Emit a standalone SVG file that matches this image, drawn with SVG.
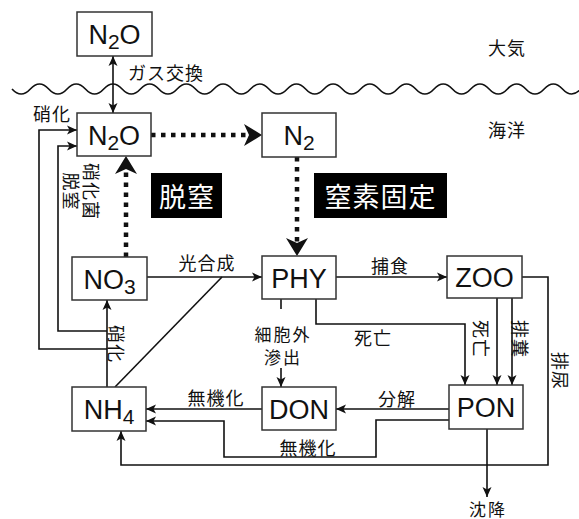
<svg xmlns="http://www.w3.org/2000/svg" width="579" height="519" viewBox="0 0 579 519">
<defs>
<style>
.box{fill:#fff;stroke:#333;stroke-width:1.5}
.nt{font-family:"Liberation Sans",Arial,sans-serif;font-size:27px;fill:#111;text-anchor:middle}
.sub{font-size:21px}
.lb{font-family:"Noto Sans CJK JP",sans-serif;font-size:18px;fill:#111;letter-spacing:1px;dominant-baseline:central}
.sm{font-size:17px;letter-spacing:2px}
.c{text-anchor:middle}
.big{font-family:"Noto Sans CJK JP",sans-serif;font-size:27px;fill:#fff;letter-spacing:1px;text-anchor:middle;dominant-baseline:central}
.ln{fill:none;stroke:#111;stroke-width:1.6}
.dot{fill:none;stroke:#111;stroke-width:4.5;stroke-dasharray:4.5 5.5}
</style>
<marker id="ar" markerUnits="userSpaceOnUse" markerWidth="10" markerHeight="9" refX="10" refY="4.5" orient="auto" overflow="visible">
<path d="M0,0 L10,4.5 L0,9 L2.5,4.5 Z" fill="#111"/>
</marker>
<marker id="ars" markerUnits="userSpaceOnUse" markerWidth="10" markerHeight="9" refX="10" refY="4.5" orient="auto-start-reverse" overflow="visible">
<path d="M0,0 L10,4.5 L0,9 L2.5,4.5 Z" fill="#111"/>
</marker>
<marker id="big" markerUnits="userSpaceOnUse" markerWidth="18" markerHeight="22" refX="5" refY="11" orient="auto" overflow="visible">
<path d="M0,0 L18,11 L0,22 L5,11 Z" fill="#111"/>
</marker>
</defs>
<rect width="579" height="519" fill="#fff"/>

<!-- sea surface -->
<path class="ln" stroke-width="1.4" d="M12,89 q9.175,10 18.35,0 t18.35,0 t18.35,0 t18.35,0 t18.35,0 t18.35,0 t18.35,0 t18.35,0 t18.35,0 t18.35,0 t18.35,0 t18.35,0 t18.35,0 t18.35,0 t18.35,0 t18.35,0 t18.35,0 t18.35,0 t18.35,0 t18.35,0 t18.35,0 t18.35,0 t18.35,0 t18.35,0 t18.35,0 t18.35,0 t18.35,0 t18.35,0 t18.35,0 t18.35,0 t18.35,0"/>
<text class="lb" x="488" y="47">大気</text>
<text class="lb" x="488" y="129">海洋</text>

<g id="connectors">
<path class="ln" d="M113,56 V113" marker-start="url(#ars)" marker-end="url(#ar)"/>
<path class="dot" d="M151,135 H249" marker-end="url(#big)"/>
<path class="dot" d="M297,157 V243" marker-end="url(#big)"/>
<path class="dot" d="M126,257 V169" marker-end="url(#big)"/>
<path class="ln" d="M107,349 H39 V130 H77" marker-end="url(#ar)"/>
<path class="ln" d="M107,331 H58 V146 H77" marker-end="url(#ar)"/>
<path class="ln" d="M107,387 V300" marker-end="url(#ar)"/>
<path class="ln" d="M115,387 L222,277"/>
<path class="ln" d="M147,277 H262" marker-end="url(#ar)"/>
<path class="ln" d="M336,277 H447" marker-end="url(#ar)"/>
<path class="ln" d="M522,277 H548 V465 H121 V431" marker-end="url(#ar)"/>
<path class="ln" d="M316,299 V324 H465 V385" marker-end="url(#ar)"/>
<path class="ln" d="M281,299 V309"/>
<path class="ln" d="M281,368 V387" marker-end="url(#ar)"/>
<path class="ln" d="M497,298 V385" marker-end="url(#ar)"/>
<path class="ln" d="M512,298 V385" marker-end="url(#ar)"/>
<path class="ln" d="M449,409 H336" marker-end="url(#ar)"/>
<path class="ln" d="M262,409 H146" marker-end="url(#ar)"/>
<path class="ln" d="M449,420 H376 V457 H224 V421 H146" marker-end="url(#ar)"/>
<path class="ln" d="M487,429 V497" marker-end="url(#ar)"/>

<text class="lb" x="128" y="72">ガス交換</text>
<text class="lb" x="33" y="113">硝化</text>
<g transform="translate(82,191.5) rotate(90)">
<text class="lb c" x="0" y="-10">硝化菌</text>
<text class="lb c" x="0" y="10">脱窒</text>
</g>
<text class="lb" x="117" y="344" transform="rotate(90 117 344)" text-anchor="middle">硝化</text>
<text class="lb c" x="207" y="262">光合成</text>
<text class="lb c" x="390" y="265">捕食</text>
<text class="lb sm c" x="283" y="333">細胞外</text>
<text class="lb sm c" x="283" y="356">滲出</text>
<text class="lb c" x="373" y="337">死亡</text>
<text class="lb" x="482" y="339" transform="rotate(90 482 339)" text-anchor="middle">死亡</text>
<text class="lb" x="521" y="339" transform="rotate(90 521 339)" text-anchor="middle">排糞</text>
<text class="lb" x="561" y="371" transform="rotate(90 561 371)" text-anchor="middle">排尿</text>
<text class="lb c" x="216" y="397">無機化</text>
<text class="lb c" x="397" y="398">分解</text>
<text class="lb c" x="308" y="447">無機化</text>
<text class="lb sm c" x="488" y="508">沈降</text>
</g>

<g id="label-denitrification">
<rect x="151" y="173" width="71" height="45" fill="#000"/>
<text class="big" x="187" y="195.5">脱窒</text>
</g>
<g id="label-fixation">
<rect x="314" y="173" width="133" height="45" fill="#000"/>
<text class="big" x="380.5" y="195.5">窒素固定</text>
</g>

<g id="n2o-air">
<rect class="box" x="77" y="12" width="75" height="44"/>
<text class="nt" x="114.5" y="44">N<tspan class="sub" dy="5">2</tspan><tspan dy="-5">O</tspan></text>
</g>
<g id="n2o-sea">
<rect class="box" x="77" y="113" width="74" height="43"/>
<text class="nt" x="114" y="144.5">N<tspan class="sub" dy="5">2</tspan><tspan dy="-5">O</tspan></text>
</g>
<g id="n2">
<rect class="box" x="262" y="113" width="74" height="44"/>
<text class="nt" x="299" y="145">N<tspan class="sub" dy="5">2</tspan></text>
</g>
<g id="no3">
<rect class="box" x="72" y="257" width="75" height="43"/>
<text class="nt" x="109.5" y="288.5">NO<tspan class="sub" dy="5">3</tspan></text>
</g>
<g id="phy">
<rect class="box" x="262" y="256" width="74" height="43"/>
<text class="nt" x="299" y="287.5">PHY</text>
</g>
<g id="zoo">
<rect class="box" x="447" y="256" width="75" height="42"/>
<text class="nt" x="484.5" y="287">ZOO</text>
</g>
<g id="nh4">
<rect class="box" x="72" y="387" width="74" height="44"/>
<text class="nt" x="109" y="419">NH<tspan class="sub" dy="5">4</tspan></text>
</g>
<g id="don">
<rect class="box" x="262" y="387" width="74" height="43"/>
<text class="nt" x="299" y="418.5">DON</text>
</g>
<g id="pon">
<rect class="box" x="449" y="385" width="74" height="44"/>
<text class="nt" x="486" y="417">PON</text>
</g>
</svg>
